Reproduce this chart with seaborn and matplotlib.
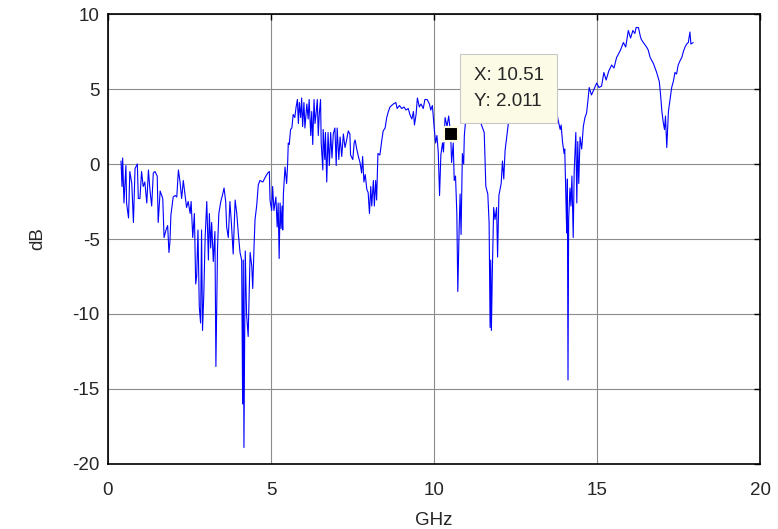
import numpy as np
import pandas as pd
import matplotlib
matplotlib.use("Agg")
import matplotlib.pyplot as plt
import seaborn as sns

freq_ghz = [
    0.40, 0.43, 0.45, 0.49, 0.55, 0.57, 0.63, 0.67, 0.73, 0.78,
    0.83, 0.90, 0.93, 0.98, 1.03, 1.08, 1.13, 1.19, 1.24, 1.29,
    1.34, 1.39, 1.44, 1.51, 1.54, 1.60, 1.68, 1.72, 1.78, 1.83,
    1.87, 1.90, 1.93, 2.00, 2.06, 2.11, 2.16, 2.21, 2.26, 2.31,
    2.36, 2.41, 2.46, 2.52, 2.55, 2.60, 2.65, 2.69, 2.72, 2.76,
    2.80, 2.84, 2.87, 2.90, 2.94, 2.98, 3.03, 3.08, 3.11, 3.15,
    3.18, 3.23, 3.28, 3.31, 3.36, 3.40, 3.46, 3.52, 3.56, 3.61,
    3.64, 3.69, 3.74, 3.79, 3.84, 3.90, 3.95, 4.00, 4.05, 4.10,
    4.13, 4.15, 4.17, 4.21, 4.25, 4.30, 4.36, 4.41, 4.44, 4.48,
    4.51, 4.56, 4.61, 4.66, 4.75, 4.82, 4.90, 4.95, 4.97,
    5.02, 5.05, 5.09, 5.15, 5.19, 5.22, 5.25, 5.28, 5.31, 5.34,
    5.36, 5.38, 5.43, 5.48, 5.51, 5.53, 5.56, 5.60, 5.64, 5.68,
    5.73, 5.77, 5.81, 5.84, 5.87, 5.91, 5.94, 5.97, 6.01, 6.04,
    6.10, 6.14, 6.17, 6.22, 6.25, 6.28, 6.32, 6.35, 6.38, 6.42,
    6.45, 6.48, 6.52, 6.54, 6.59, 6.60, 6.65, 6.67, 6.71, 6.75,
    6.79, 6.83, 6.87, 6.91, 6.96, 7.00, 7.03, 7.08, 7.12, 7.17,
    7.22, 7.27, 7.32, 7.37, 7.42, 7.44, 7.51, 7.55, 7.58, 7.63,
    7.68, 7.73, 7.78, 7.81, 7.85, 7.89, 7.94, 7.98, 8.02, 8.06,
    8.09, 8.14, 8.17, 8.21, 8.24, 8.28, 8.34, 8.40, 8.44, 8.50,
    8.55, 8.60, 8.65, 8.70, 8.75, 8.83, 8.87, 8.94, 9.01, 9.08,
    9.14, 9.21, 9.26, 9.32, 9.37, 9.40, 9.45, 9.49, 9.55, 9.60,
    9.67, 9.72, 9.79, 9.86, 9.90, 9.95, 10.01, 10.05, 10.09, 10.13,
    10.17, 10.21, 10.26, 10.29, 10.34, 10.40, 10.45, 10.51, 10.54, 10.59,
    10.62, 10.66, 10.70, 10.73, 10.77, 10.80, 10.83, 10.87, 10.91, 10.93,
    10.97, 11.05, 11.20, 11.35, 11.44, 11.54, 11.59, 11.65, 11.69, 11.72,
    11.74, 11.76, 11.79, 11.83, 11.87, 11.92, 11.95, 11.99, 12.06, 12.10,
    12.14, 12.18, 12.23, 12.28, 12.36, 12.40, 12.60, 12.90, 13.20, 13.50,
    13.76, 13.80, 13.87, 13.90, 13.94, 13.99, 14.01, 14.04, 14.07, 14.09,
    14.11, 14.13, 14.17, 14.20, 14.23, 14.27, 14.30, 14.35, 14.38, 14.41,
    14.44, 14.48, 14.53, 14.58, 14.63, 14.68, 14.72, 14.76, 14.83, 14.91,
    14.99, 15.06, 15.14, 15.21, 15.28, 15.36, 15.45, 15.52, 15.60, 15.65,
    15.72, 15.81, 15.88, 15.96, 16.03, 16.10, 16.16, 16.20, 16.27, 16.33,
    16.36, 16.42, 16.52, 16.57, 16.63, 16.73, 16.83, 16.91, 16.95, 16.99,
    17.03, 17.07, 17.10, 17.14, 17.19, 17.24, 17.29, 17.34, 17.39, 17.44,
    17.49, 17.55, 17.60, 17.65, 17.70, 17.75, 17.80, 17.85, 17.88, 17.95,
]
level_db = [
    0.2, -1.5, 0.4, -2.6, -0.1, -2.6, -3.6, -0.5, -1.3, -3.9,
    -0.3, 0.0, -2.3, -2.3, -0.5, -1.5, -1.2, -2.6, -0.4, -1.8,
    -2.8, -0.6, -0.5, -0.8, -3.9, -1.8, -2.3, -4.9, -4.4, -4.1,
    -5.9, -5.2, -3.4, -2.2, -2.1, -2.2, -0.4, -1.2, -2.3, -1.1,
    -2.0, -2.9, -2.5, -3.3, -2.5, -4.9, -3.3, -8.0, -7.5, -4.4,
    -9.5, -10.6, -4.4, -11.1, -8.6, -4.9, -2.5, -6.4, -3.3, -5.6,
    -3.9, -6.5, -4.5, -13.5, -5.6, -3.3, -2.5, -2.0, -1.6, -2.5,
    -4.2, -4.9, -2.5, -4.1, -6.0, -2.4, -3.3, -4.7, -5.9, -6.4,
    -16.0, -6.4, -18.9, -5.8, -10.0, -11.5, -5.9, -6.8, -8.3, -5.5,
    -3.7, -2.8, -1.4, -1.1, -1.2, -0.9, -0.6, -0.5, -2.4,
    -3.1, -1.5, -3.1, -2.2, -4.2, -2.6, -6.3, -2.6, -4.3, -2.8,
    -4.4, -2.0, -0.2, -1.3, 0.0, 1.4, 1.3, 2.3, 2.4, 3.3,
    3.1, 3.8, 4.3, 2.7, 4.1, 3.1, 4.4, 2.5, 4.1, 2.4,
    4.0, 3.0, 4.3, 1.9, 3.5, 1.3, 4.3, 2.7, 3.3, 4.3,
    1.9, 3.3, 4.3, 1.4, -0.4, 2.3, 0.3, 2.1, -1.2, 2.1,
    -0.1, 2.1, 0.4, 2.0, 2.4, -0.1, 2.4, 0.3, 1.8, 0.5,
    2.0, 1.1, 1.6, 2.2, 2.0, 0.6, 0.3, 1.4, 1.6, 1.0,
    0.5, 0.1, -0.6, 0.5, -1.2, -0.7, -1.7, -1.9, -3.3, -1.5,
    -2.8, -1.1, -2.8, -1.1, -2.4, 0.7, 0.6, 1.6, 2.2, 2.4,
    3.1, 3.5, 3.8, 3.9, 4.0, 4.1, 3.7, 3.9, 3.7, 3.8,
    3.6, 3.7, 3.3, 3.0, 3.5, 2.6, 3.3, 4.4, 3.8, 4.0,
    3.7, 4.3, 4.3, 4.0, 3.6, 3.9, 2.3, 1.4, 1.9, 0.8,
    -2.1, 0.6, 1.4, 0.8, 3.1, 2.5, 3.2, 2.011, 0.1, 1.4,
    -1.1, -0.8, -3.3, -8.5, -4.4, -2.0, -4.7, 0.7, 0.0, 1.9,
    2.9, 4.0, 4.3, 4.0, 2.7, 2.1, -1.5, -2.0, -3.9, -10.9,
    -6.4, -11.1, -7.1, -2.9, -3.7, -2.9, -6.2, -2.1, -1.3, 0.2,
    -1.0, 0.9, 1.8, 2.7, 3.3, 4.3, 4.2, 4.5, 4.3, 4.0,
    3.6, 3.0, 2.3, 2.6, 1.5, 0.7, 1.0, -1.9, -4.6, -1.0,
    -14.4, -3.7, -1.6, -2.8, -0.8, -4.9, -0.5, 2.1, -2.6, 1.5,
    -1.3, 1.8, 1.0, 2.5, 3.1, 3.4, 4.2, 5.1, 4.6, 5.0,
    5.4, 5.1, 5.2, 6.1, 5.6, 6.2, 6.6, 6.4, 7.1, 7.3,
    7.6, 8.1, 7.8, 8.9, 8.4, 8.9, 8.7, 9.1, 9.1, 8.5,
    8.3, 8.1, 7.8, 7.6, 7.1, 6.7, 6.1, 5.5, 4.6, 3.5,
    2.8, 2.3, 3.2, 1.1, 3.5, 4.3, 5.1, 5.5, 6.1, 6.0,
    6.6, 6.9, 7.1, 7.5, 7.8, 8.0, 8.1, 8.8, 8.0, 8.1,
]

# data tip shown on the plot
tip_x = 10.51
tip_y = 2.011

df = pd.DataFrame({"GHz": freq_ghz, "dB": level_db})

sns.set_style("white")
plt.rcParams["font.family"] = ["Liberation Sans", "DejaVu Sans"]
plt.rcParams["axes.unicode_minus"] = False

fig = plt.figure(figsize=(7.78, 5.29), dpi=100)
ax = fig.add_subplot(111)
fig.subplots_adjust(left=0.1388, right=0.9769, bottom=0.1229, top=0.9735)

sns.lineplot(data=df, x="GHz", y="dB", ax=ax, color="blue", linewidth=0.8,
             estimator=None, sort=False)

# data tip marker + label box (MATLAB style)
ax.plot(tip_x, tip_y, marker="s", markersize=10, color="black",
        markeredgecolor="#fffde0", markeredgewidth=1.5, zorder=5)
ax.annotate(f"X: {tip_x:.2f}\nY: {tip_y:.3f}", xy=(tip_x, tip_y),
            xytext=(16.5, 17), textcoords="offset points",
            ha="left", va="bottom", fontsize=13.5, linespacing=1.7,
            bbox=dict(boxstyle="square,pad=0.7", facecolor="#fbfbe6",
                      edgecolor="#c8c8c8", linewidth=0.8), zorder=6)

ax.set_xlim(0, 20)
ax.set_ylim(-20, 10)
ax.set_xticks(np.arange(0, 21, 5))
ax.set_yticks(np.arange(-20, 11, 5))
ax.grid(True, color="#8c8c8c", linewidth=0.8, linestyle="-")
ax.set_axisbelow(True)
for s in ax.spines.values():
    s.set_color("black")
    s.set_linewidth(1.2)
ax.tick_params(axis="both", direction="in", length=4, width=1, color="black",
               top=True, right=True, labelsize=13.5)
ax.tick_params(axis="x", pad=13)
ax.tick_params(axis="y", pad=6)
ax.set_xlabel("GHz", fontsize=13.5, labelpad=9)
ax.set_ylabel("dB", fontsize=13.5, labelpad=19)

fig.savefig("out.png", dpi=100)
